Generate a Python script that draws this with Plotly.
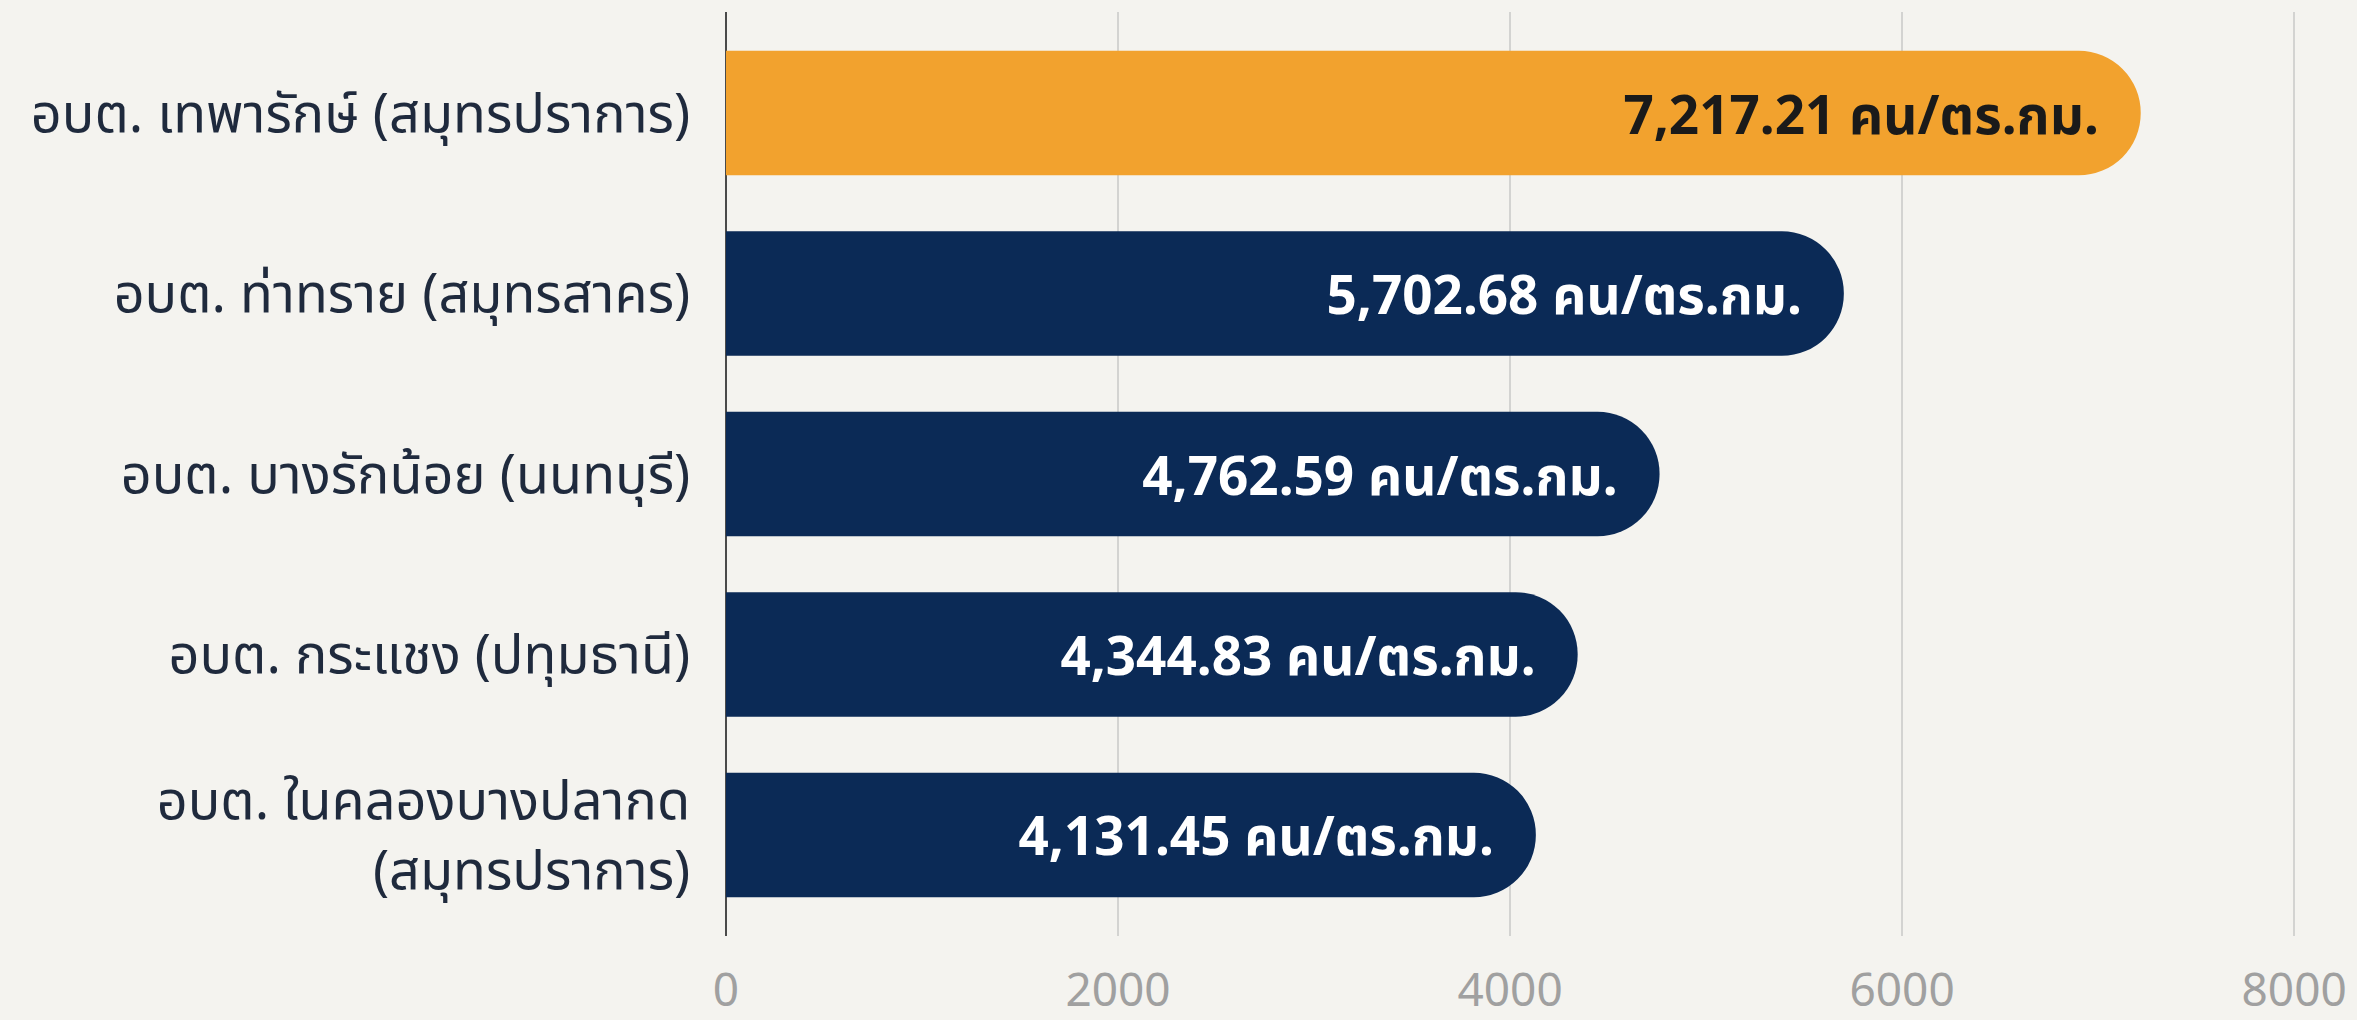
import plotly.graph_objects as go

categories = [
    "อบต. เทพารักษ์ (สมุทรปราการ)",
    "อบต. ท่าทราย (สมุทรสาคร)",
    "อบต. บางรักน้อย (นนทบุรี)",
    "อบต. กระแชง (ปทุมธานี)",
    "อบต. ในคลองบางปลากด<br>(สมุทรปราการ)",
]
values = [7217.21, 5702.68, 4762.59, 4344.83, 4131.45]
value_labels = [
    "7,217.21 คน/ตร.กม.",
    "5,702.68 คน/ตร.กม.",
    "4,762.59 คน/ตร.กม.",
    "4,344.83 คน/ตร.กม.",
    "4,131.45 คน/ตร.กม.",
]
x_ticks = [0, 2000, 4000, 6000, 8000]

bar_colors = ["#F2A22E", "#0B2A56", "#0B2A56", "#0B2A56", "#0B2A56"]
text_colors = ["#1A1A1A", "#FFFFFF", "#FFFFFF", "#FFFFFF", "#FFFFFF"]

BG = "#F4F3EF"
FONT = "Noto Sans, Noto Sans Thai, sans-serif"

fig = go.Figure(
    go.Bar(
        x=values,
        y=categories,
        orientation="h",
        width=0.69,
        marker=dict(color=bar_colors, cornerradius="50%", line=dict(width=0)),
        text=[f"<b>{t}</b>\u2002" for t in value_labels],
        textposition="inside",
        insidetextanchor="end",
        textfont=dict(family=FONT, size=53, color=text_colors),
        constraintext="none",
        hoverinfo="skip",
    )
)

fig.update_layout(
    width=2357,
    height=1020,
    margin=dict(l=726, r=55, t=12, b=84),
    paper_bgcolor=BG,
    plot_bgcolor=BG,
    showlegend=False,
    font=dict(family=FONT),
)

fig.update_xaxes(
    range=[0, 8040],
    tickvals=x_ticks,
    ticktext=[str(v) for v in x_ticks],
    showgrid=True,
    gridcolor="#D3D3D1",
    gridwidth=2,
    zeroline=True,
    zerolinecolor="#4A4A4A",
    zerolinewidth=2,
    showline=False,
    ticks="outside",
    ticklen=0,
    tickcolor=BG,
    ticklabelstandoff=14,
    automargin=False,
    tickfont=dict(family=FONT, size=46, color="#A0A0A0"),
)

fig.update_yaxes(
    categoryorder="array",
    categoryarray=categories,
    range=[4.56, -0.56],
    showgrid=False,
    zeroline=False,
    showline=False,
    ticks="outside",
    ticklen=0,
    tickcolor=BG,
    ticklabelstandoff=24,
    automargin=False,
    tickfont=dict(family=FONT, size=54, color="#1F2A3D"),
)

fig.write_html("out.html")
